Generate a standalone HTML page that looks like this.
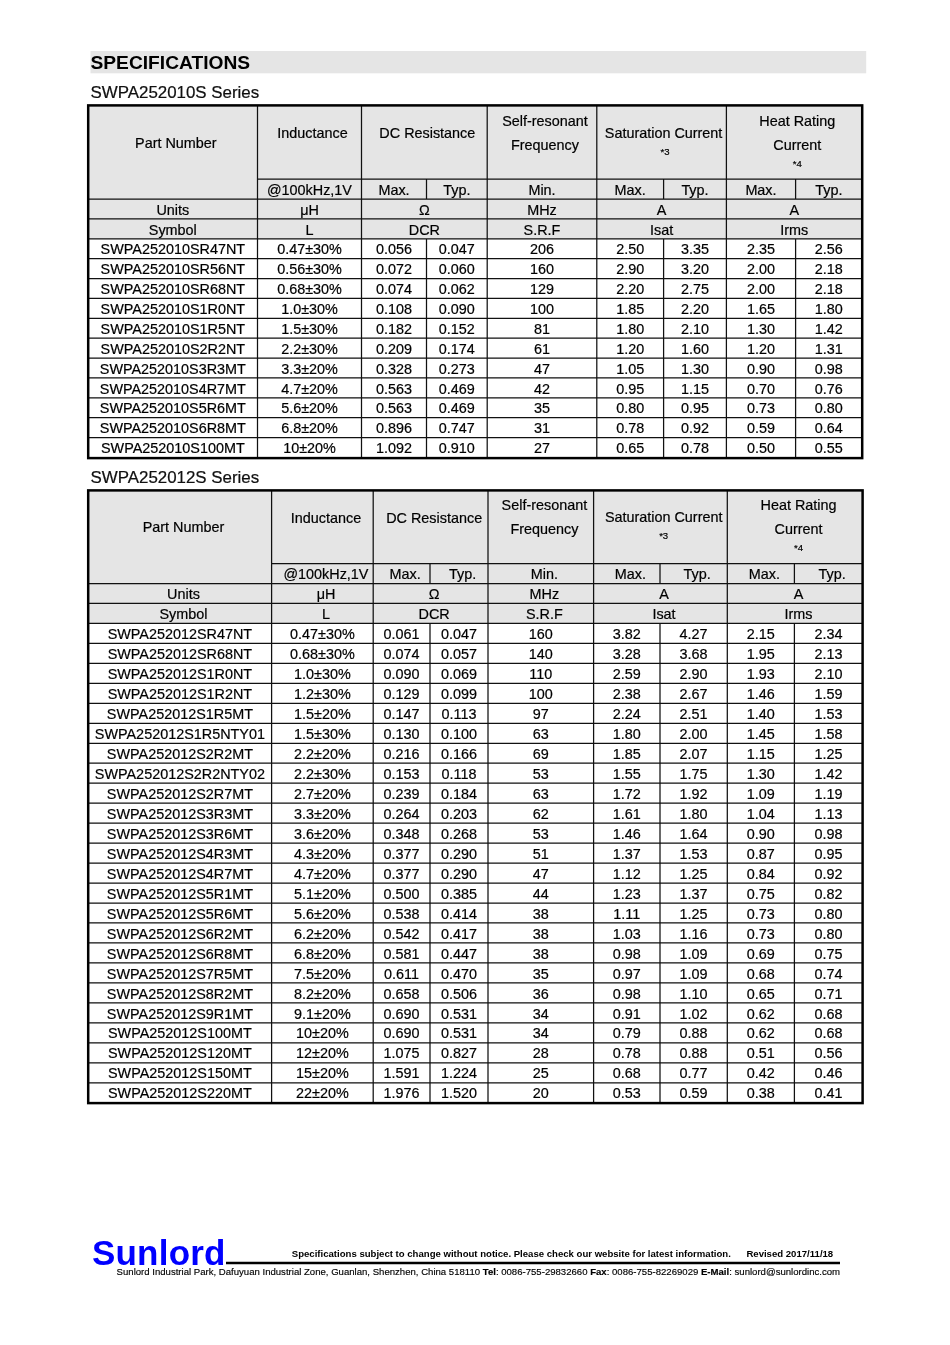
<!DOCTYPE html>
<html lang="en">
<head>
<meta charset="utf-8">
<title>SWPA2520 Specifications</title>
<style>
html,body{margin:0;padding:0;background:#fff}
body{width:950px;height:1345px;overflow:hidden;font-family:"Liberation Sans",Arial,sans-serif;color:#111}
#page{will-change:transform;position:relative;width:950px;height:1345px;overflow:hidden;background:#fff}
.band{position:absolute;left:0;top:0}
.title{position:absolute;left:90.5px;top:52px;margin:0;font-size:19.2px;line-height:22.3px;font-weight:bold;color:#000;white-space:nowrap}
.series{-webkit-text-stroke:.2px #000;position:absolute;left:90.5px;font-size:16.9px;line-height:20px;white-space:nowrap;color:#111}
.s1{top:83px}
.s2{top:468.3px}
table.spec{position:absolute;border-collapse:collapse;table-layout:fixed;font-size:14.4px;color:#000;-webkit-text-stroke:.2px #000}
table.spec th,table.spec td{padding:0;margin:0;font-weight:normal;text-align:center;vertical-align:top;white-space:nowrap;overflow:visible;line-height:16px;padding-top:2.7px;padding-bottom:0;box-sizing:border-box}
table.spec th{background:#e5e5e5}
table.spec td{background:#fff}
tr.h1 th{padding-left:6px;padding-top:0}
tr.h1 th div{line-height:23.8px}
tr.h1 th.two{padding-top:4.9px}
tr.h1 th.one{padding-top:17.1px}
tr.h1 th.sat{padding-top:16.7px;padding-left:4px}
tr.h1 th.pn{padding-top:26.7px}
tr.h1 th div.sup{font-size:9.6px;line-height:11.2px}
tr.h1 th.sat div.sup{line-height:11.6px;padding-left:3px}
svg.grid{position:absolute;left:0;top:0;pointer-events:none}
svg.grid .in{fill:none;stroke:#111;stroke-width:1.25}
svg.grid .out{fill:none;stroke:#000;stroke-width:2.5}
svg.grid .rule{fill:none;stroke:#000;stroke-width:2.5}
.footer{position:absolute;left:0;top:1230px;width:950px;height:60px}
.logo{position:absolute;left:92px;top:3px;letter-spacing:.2px;font-size:35px;line-height:40px;font-weight:bold;color:#0000ff;white-space:nowrap}
.notice{position:absolute;left:291.8px;top:16.7px;font-size:9.58px;line-height:14px;font-weight:bold;color:#000;white-space:nowrap}
.notice .rev{margin-left:15.5px}
.addr{position:absolute;left:116.6px;top:34.8px;font-size:9.585px;line-height:14px;color:#000;-webkit-text-stroke:.15px #000;white-space:nowrap}
.addr b{color:#000}
table.t2 th{padding-left:7.2px}
table.t2 tr.h1 th div{position:relative;top:-.9px}
table.t2 tr.h1 th div.sup{top:-.6px}
table.t2 tr.h1 th.sat{padding-left:6.5px}
table.t2 tr.h1 th.sat div.sup{padding-left:0}

</style>
</head>
<body>
<div id="page">
<svg class="band" width="950" height="80" viewBox="0 0 950 80"><rect x="90.5" y="51" width="775.7" height="22.3" fill="#e5e5e5"/></svg>
<h1 class="title">SPECIFICATIONS</h1>
<div class="series s1">SWPA252010S Series</div>
<table class="spec t1" style="left:88.2px;top:105.4px;width:774px">
<colgroup><col style="width:169.3px"><col style="width:104px"><col style="width:65px"><col style="width:60.7px"><col style="width:109.6px"><col style="width:66.8px"><col style="width:62.8px"><col style="width:69.2px"><col style="width:66.6px"></colgroup>
<thead>
<tr class="h1" style="height:73.6px"><th rowspan="2" class="pn"><div>Part Number</div></th><th class="one"><div>Inductance</div></th><th colspan="2" class="one"><div>DC Resistance</div></th><th class="two"><div>Self-resonant</div><div>Frequency</div></th><th colspan="2" class="sat"><div>Saturation Current</div><div class="sup">*3</div></th><th colspan="2" class="two"><div>Heat Rating</div><div>Current</div><div class="sup">*4</div></th></tr>
<tr class="h2" style="height:20.1px"><th>@100kHz,1V</th><th>Max.</th><th class="ty a">Typ.</th><th>Min.</th><th>Max.</th><th class="ty b">Typ.</th><th>Max.</th><th class="ty c">Typ.</th></tr>
<tr style="height:19.87px"><th>Units</th><th>μH</th><th colspan="2">Ω</th><th>MHz</th><th colspan="2">A</th><th colspan="2">A</th></tr>
<tr style="height:19.87px"><th>Symbol</th><th>L</th><th colspan="2">DCR</th><th>S.R.F</th><th colspan="2">Isat</th><th colspan="2">Irms</th></tr>
</thead><tbody>
<tr style="height:19.87px"><td>SWPA252010SR47NT</td><td>0.47±30%</td><td>0.056</td><td>0.047</td><td>206</td><td>2.50</td><td>3.35</td><td>2.35</td><td>2.56</td></tr>
<tr style="height:19.87px"><td>SWPA252010SR56NT</td><td>0.56±30%</td><td>0.072</td><td>0.060</td><td>160</td><td>2.90</td><td>3.20</td><td>2.00</td><td>2.18</td></tr>
<tr style="height:19.87px"><td>SWPA252010SR68NT</td><td>0.68±30%</td><td>0.074</td><td>0.062</td><td>129</td><td>2.20</td><td>2.75</td><td>2.00</td><td>2.18</td></tr>
<tr style="height:19.87px"><td>SWPA252010S1R0NT</td><td>1.0±30%</td><td>0.108</td><td>0.090</td><td>100</td><td>1.85</td><td>2.20</td><td>1.65</td><td>1.80</td></tr>
<tr style="height:19.87px"><td>SWPA252010S1R5NT</td><td>1.5±30%</td><td>0.182</td><td>0.152</td><td>81</td><td>1.80</td><td>2.10</td><td>1.30</td><td>1.42</td></tr>
<tr style="height:19.87px"><td>SWPA252010S2R2NT</td><td>2.2±30%</td><td>0.209</td><td>0.174</td><td>61</td><td>1.20</td><td>1.60</td><td>1.20</td><td>1.31</td></tr>
<tr style="height:19.87px"><td>SWPA252010S3R3MT</td><td>3.3±20%</td><td>0.328</td><td>0.273</td><td>47</td><td>1.05</td><td>1.30</td><td>0.90</td><td>0.98</td></tr>
<tr style="height:19.87px"><td>SWPA252010S4R7MT</td><td>4.7±20%</td><td>0.563</td><td>0.469</td><td>42</td><td>0.95</td><td>1.15</td><td>0.70</td><td>0.76</td></tr>
<tr style="height:19.87px"><td>SWPA252010S5R6MT</td><td>5.6±20%</td><td>0.563</td><td>0.469</td><td>35</td><td>0.80</td><td>0.95</td><td>0.73</td><td>0.80</td></tr>
<tr style="height:19.87px"><td>SWPA252010S6R8MT</td><td>6.8±20%</td><td>0.896</td><td>0.747</td><td>31</td><td>0.78</td><td>0.92</td><td>0.59</td><td>0.64</td></tr>
<tr style="height:20.56px"><td>SWPA252010S100MT</td><td>10±20%</td><td>1.092</td><td>0.910</td><td>27</td><td>0.65</td><td>0.78</td><td>0.50</td><td>0.55</td></tr>
</tbody></table>
<div class="series s2">SWPA252012S Series</div>
<table class="spec t2" style="left:88.2px;top:490.4px;width:774.4px">
<colgroup><col style="width:183.4px"><col style="width:101.6px"><col style="width:56.8px"><col style="width:58px"><col style="width:105.6px"><col style="width:66.4px"><col style="width:67.3px"><col style="width:67.1px"><col style="width:68.2px"></colgroup>
<thead>
<tr class="h1" style="height:73.2px"><th rowspan="2" class="pn"><div>Part Number</div></th><th class="one"><div>Inductance</div></th><th colspan="2" class="one"><div>DC Resistance</div></th><th class="two"><div>Self-resonant</div><div>Frequency</div></th><th colspan="2" class="sat"><div>Saturation Current</div><div class="sup">*3</div></th><th colspan="2" class="two"><div>Heat Rating</div><div>Current</div><div class="sup">*4</div></th></tr>
<tr class="h2" style="height:19.9px"><th>@100kHz,1V</th><th>Max.</th><th class="ty a">Typ.</th><th>Min.</th><th>Max.</th><th class="ty b">Typ.</th><th>Max.</th><th class="ty c">Typ.</th></tr>
<tr style="height:19.97px"><th>Units</th><th>μH</th><th colspan="2">Ω</th><th>MHz</th><th colspan="2">A</th><th colspan="2">A</th></tr>
<tr style="height:19.97px"><th>Symbol</th><th>L</th><th colspan="2">DCR</th><th>S.R.F</th><th colspan="2">Isat</th><th colspan="2">Irms</th></tr>
</thead><tbody>
<tr style="height:19.97px"><td>SWPA252012SR47NT</td><td>0.47±30%</td><td>0.061</td><td>0.047</td><td>160</td><td>3.82</td><td>4.27</td><td>2.15</td><td>2.34</td></tr>
<tr style="height:19.97px"><td>SWPA252012SR68NT</td><td>0.68±30%</td><td>0.074</td><td>0.057</td><td>140</td><td>3.28</td><td>3.68</td><td>1.95</td><td>2.13</td></tr>
<tr style="height:19.97px"><td>SWPA252012S1R0NT</td><td>1.0±30%</td><td>0.090</td><td>0.069</td><td>110</td><td>2.59</td><td>2.90</td><td>1.93</td><td>2.10</td></tr>
<tr style="height:19.97px"><td>SWPA252012S1R2NT</td><td>1.2±30%</td><td>0.129</td><td>0.099</td><td>100</td><td>2.38</td><td>2.67</td><td>1.46</td><td>1.59</td></tr>
<tr style="height:19.97px"><td>SWPA252012S1R5MT</td><td>1.5±20%</td><td>0.147</td><td>0.113</td><td>97</td><td>2.24</td><td>2.51</td><td>1.40</td><td>1.53</td></tr>
<tr style="height:19.97px"><td>SWPA252012S1R5NTY01</td><td>1.5±30%</td><td>0.130</td><td>0.100</td><td>63</td><td>1.80</td><td>2.00</td><td>1.45</td><td>1.58</td></tr>
<tr style="height:19.97px"><td>SWPA252012S2R2MT</td><td>2.2±20%</td><td>0.216</td><td>0.166</td><td>69</td><td>1.85</td><td>2.07</td><td>1.15</td><td>1.25</td></tr>
<tr style="height:19.97px"><td>SWPA252012S2R2NTY02</td><td>2.2±30%</td><td>0.153</td><td>0.118</td><td>53</td><td>1.55</td><td>1.75</td><td>1.30</td><td>1.42</td></tr>
<tr style="height:19.97px"><td>SWPA252012S2R7MT</td><td>2.7±20%</td><td>0.239</td><td>0.184</td><td>63</td><td>1.72</td><td>1.92</td><td>1.09</td><td>1.19</td></tr>
<tr style="height:19.97px"><td>SWPA252012S3R3MT</td><td>3.3±20%</td><td>0.264</td><td>0.203</td><td>62</td><td>1.61</td><td>1.80</td><td>1.04</td><td>1.13</td></tr>
<tr style="height:19.97px"><td>SWPA252012S3R6MT</td><td>3.6±20%</td><td>0.348</td><td>0.268</td><td>53</td><td>1.46</td><td>1.64</td><td>0.90</td><td>0.98</td></tr>
<tr style="height:19.97px"><td>SWPA252012S4R3MT</td><td>4.3±20%</td><td>0.377</td><td>0.290</td><td>51</td><td>1.37</td><td>1.53</td><td>0.87</td><td>0.95</td></tr>
<tr style="height:19.97px"><td>SWPA252012S4R7MT</td><td>4.7±20%</td><td>0.377</td><td>0.290</td><td>47</td><td>1.12</td><td>1.25</td><td>0.84</td><td>0.92</td></tr>
<tr style="height:19.97px"><td>SWPA252012S5R1MT</td><td>5.1±20%</td><td>0.500</td><td>0.385</td><td>44</td><td>1.23</td><td>1.37</td><td>0.75</td><td>0.82</td></tr>
<tr style="height:19.97px"><td>SWPA252012S5R6MT</td><td>5.6±20%</td><td>0.538</td><td>0.414</td><td>38</td><td>1.11</td><td>1.25</td><td>0.73</td><td>0.80</td></tr>
<tr style="height:19.97px"><td>SWPA252012S6R2MT</td><td>6.2±20%</td><td>0.542</td><td>0.417</td><td>38</td><td>1.03</td><td>1.16</td><td>0.73</td><td>0.80</td></tr>
<tr style="height:19.97px"><td>SWPA252012S6R8MT</td><td>6.8±20%</td><td>0.581</td><td>0.447</td><td>38</td><td>0.98</td><td>1.09</td><td>0.69</td><td>0.75</td></tr>
<tr style="height:19.97px"><td>SWPA252012S7R5MT</td><td>7.5±20%</td><td>0.611</td><td>0.470</td><td>35</td><td>0.97</td><td>1.09</td><td>0.68</td><td>0.74</td></tr>
<tr style="height:19.97px"><td>SWPA252012S8R2MT</td><td>8.2±20%</td><td>0.658</td><td>0.506</td><td>36</td><td>0.98</td><td>1.10</td><td>0.65</td><td>0.71</td></tr>
<tr style="height:19.97px"><td>SWPA252012S9R1MT</td><td>9.1±20%</td><td>0.690</td><td>0.531</td><td>34</td><td>0.91</td><td>1.02</td><td>0.62</td><td>0.68</td></tr>
<tr style="height:19.97px"><td>SWPA252012S100MT</td><td>10±20%</td><td>0.690</td><td>0.531</td><td>34</td><td>0.79</td><td>0.88</td><td>0.62</td><td>0.68</td></tr>
<tr style="height:19.97px"><td>SWPA252012S120MT</td><td>12±20%</td><td>1.075</td><td>0.827</td><td>28</td><td>0.78</td><td>0.88</td><td>0.51</td><td>0.56</td></tr>
<tr style="height:19.97px"><td>SWPA252012S150MT</td><td>15±20%</td><td>1.591</td><td>1.224</td><td>25</td><td>0.68</td><td>0.77</td><td>0.42</td><td>0.46</td></tr>
<tr style="height:20.35px"><td>SWPA252012S220MT</td><td>22±20%</td><td>1.976</td><td>1.520</td><td>20</td><td>0.53</td><td>0.59</td><td>0.38</td><td>0.41</td></tr>
</tbody></table>
<svg class="grid" width="950" height="1345" viewBox="0 0 950 1345">
<path class="in" d="M257.5 179H862.2M88.2 199.1H862.2M88.2 218.97H862.2M88.2 238.84H862.2M88.2 258.71H862.2M88.2 278.58H862.2M88.2 298.45H862.2M88.2 318.32H862.2M88.2 338.19H862.2M88.2 358.06H862.2M88.2 377.93H862.2M88.2 397.8H862.2M88.2 417.67H862.2M88.2 437.54H862.2M257.5 105.4V458.1M361.5 105.4V458.1M487.2 105.4V458.1M596.8 105.4V458.1M726.4 105.4V458.1M426.5 179V199.1M426.5 238.84V458.1M663.6 179V199.1M663.6 238.84V458.1M795.6 179V199.1M795.6 238.84V458.1"/>
<rect class="out" x="88.2" y="105.4" width="774" height="352.7"/>
<path class="in" d="M271.6 563.6H862.6M88.2 583.5H862.6M88.2 603.47H862.6M88.2 623.44H862.6M88.2 643.41H862.6M88.2 663.38H862.6M88.2 683.35H862.6M88.2 703.32H862.6M88.2 723.29H862.6M88.2 743.26H862.6M88.2 763.23H862.6M88.2 783.2H862.6M88.2 803.17H862.6M88.2 823.14H862.6M88.2 843.11H862.6M88.2 863.08H862.6M88.2 883.05H862.6M88.2 903.02H862.6M88.2 922.99H862.6M88.2 942.96H862.6M88.2 962.93H862.6M88.2 982.9H862.6M88.2 1002.87H862.6M88.2 1022.84H862.6M88.2 1042.81H862.6M88.2 1062.78H862.6M88.2 1082.75H862.6M271.6 490.4V1103.1M373.2 490.4V1103.1M488 490.4V1103.1M593.6 490.4V1103.1M727.3 490.4V1103.1M430 563.6V583.5M430 623.44V1103.1M660 563.6V583.5M660 623.44V1103.1M794.4 563.6V583.5M794.4 623.44V1103.1"/>
<rect class="out" x="88.2" y="490.4" width="774.4" height="612.7"/>
<path class="rule" d="M226 1263.1H840"/>
</svg>
<div class="footer">
<div class="logo">Sunlord</div>
<div class="notice">Specifications subject to change without notice. Please check our website for latest information.<span class="rev">Revised 2017/11/18</span></div>
<div class="addr">Sunlord Industrial Park, Dafuyuan Industrial Zone, Guanlan, Shenzhen, China 518110 <b>Tel</b>: 0086-755-29832660 <b>Fax</b>: 0086-755-82269029 <b>E-Mail</b>: sunlord@sunlordinc.com</div>
</div>
</div>
</body>
</html>
